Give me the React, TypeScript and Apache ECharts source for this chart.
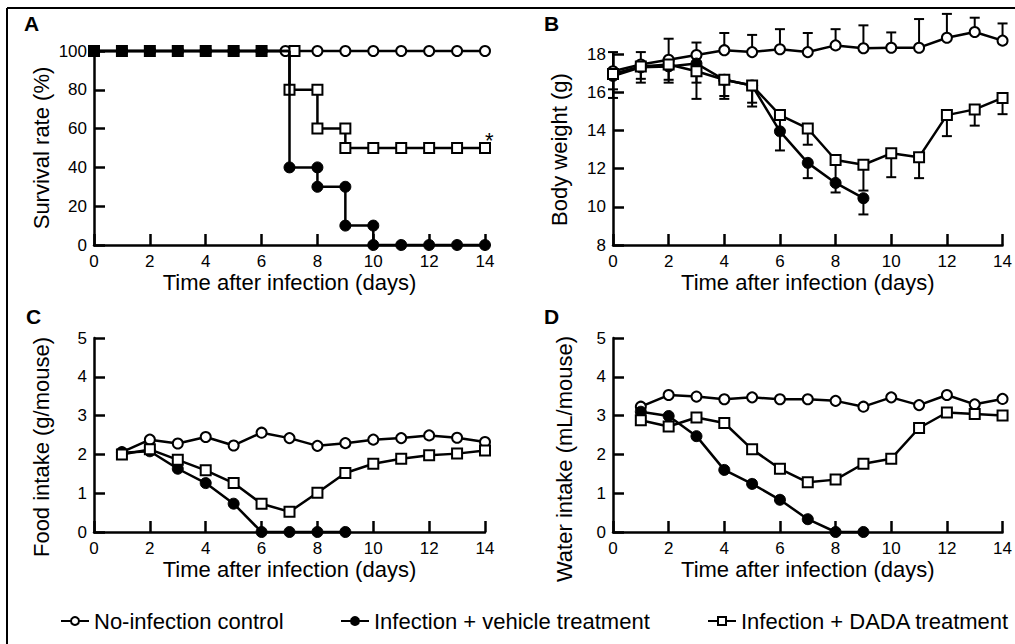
import React, { useEffect, useRef } from "react";
import * as echarts from "echarts";

const FONT = "'Liberation Sans', Arial, Helvetica, sans-serif";

const NAME_CONTROL = "No-infection control";
const NAME_VEHICLE = "Infection + vehicle treatment";
const NAME_DADA = "Infection + DADA treatment";

// Panel A: survival (%) by day 0..14
const survivalDays = [0, 1, 2, 3, 4, 5, 6, 7, 8, 9, 10, 11, 12, 13, 14];
const survivalControl = [100, 100, 100, 100, 100, 100, 100, 100, 100, 100, 100, 100, 100, 100, 100];
const survivalVehicle = [100, 100, 100, 100, 100, 100, 100, 40, 30, 10, 0, 0, 0, 0, 0];
const survivalDada = [100, 100, 100, 100, 100, 100, 100, 80, 60, 50, 50, 50, 50, 50, 50];

// Panel B: body weight (g), mean and SD
const weightDays = [0, 1, 2, 3, 4, 5, 6, 7, 8, 9, 10, 11, 12, 13, 14];
const weightControl = [17.1, 17.45, 17.7, 17.95, 18.2, 18.1, 18.25, 18.1, 18.45, 18.3, 18.33, 18.33, 18.85, 19.15, 18.7];
const weightControlSd = [1.0, 0.65, 1.1, 0.65, 0.9, 0.9, 1.05, 1.0, 0.85, 1.2, 0.8, 1.5, 1.25, 0.75, 0.9];
const weightVehicle = [16.85, 17.3, 17.35, 17.5, 16.65, 16.35, 13.95, 12.3, 11.25, 10.45];
const weightVehicleSd = [1.15, 0.8, 0.85, 1.0, 1.0, 1.1, 1.0, 0.8, 0.5, 0.85];
const weightDada = [16.95, 17.35, 17.45, 17.1, 16.65, 16.35, 14.8, 14.1, 12.45, 12.2, 12.8, 12.6, 14.8, 15.1, 15.7];
const weightDadaSd = [0.8, 0.65, 0.8, 1.45, 0.85, 0.9, 0.9, 0.85, 1.3, 1.35, 1.25, 1.1, 1.1, 0.85, 0.85];

// Panel C: food intake (g/mouse), days 1..14
const intakeDays = [1, 2, 3, 4, 5, 6, 7, 8, 9, 10, 11, 12, 13, 14];
const foodControl = [2.06, 2.38, 2.28, 2.45, 2.23, 2.56, 2.42, 2.22, 2.29, 2.38, 2.42, 2.49, 2.43, 2.32];
const foodVehicle = [2.04, 2.08, 1.63, 1.26, 0.73, 0, 0, 0, 0];
const foodDada = [2.0, 2.13, 1.86, 1.59, 1.26, 0.73, 0.52, 1.01, 1.52, 1.76, 1.89, 1.98, 2.02, 2.1];

// Panel D: water intake (mL/mouse), days 1..14
const waterControl = [3.23, 3.53, 3.49, 3.42, 3.47, 3.42, 3.42, 3.38, 3.23, 3.47, 3.27, 3.53, 3.29, 3.43];
const waterVehicle = [3.1, 2.99, 2.47, 1.6, 1.24, 0.83, 0.33, 0, 0];
const waterDada = [2.88, 2.72, 2.95, 2.81, 2.13, 1.63, 1.28, 1.35, 1.76, 1.89, 2.68, 3.08, 3.04, 3.0];

const xTitle = "Time after infection (days)";

const lineBase = { color: "#000", width: 2.5 };
const styleControl = {
  symbol: "circle",
  symbolSize: 10,
  itemStyle: { color: "#fff", borderColor: "#000", borderWidth: 2 },
  lineStyle: lineBase,
};
const styleVehicle = {
  symbol: "circle",
  symbolSize: 11,
  itemStyle: { color: "#000", borderColor: "#000", borderWidth: 1 },
  lineStyle: lineBase,
};
const styleDada = {
  symbol: "rect",
  symbolSize: 10,
  itemStyle: { color: "#fff", borderColor: "#000", borderWidth: 2 },
  lineStyle: lineBase,
};

function pairs(xs: number[], ys: number[]) {
  return ys.map((y, i) => [xs[i], y]);
}

// Kaplan-Meier style step points with a marker before and after each drop
function stepPoints(xs: number[], ys: number[], hideTop: boolean, topOffset?: number[]) {
  const pts: any[] = [];
  ys.forEach((v, i) => {
    if (i > 0 && v !== ys[i - 1]) {
      const item: any = { value: [xs[i], ys[i - 1]] };
      if (hideTop && ys[i - 1] === 100) item.symbol = "none";
      if (topOffset && ys[i - 1] === 100) item.symbolOffset = topOffset;
      pts.push(item);
    }
    pts.push({ value: [xs[i], v] });
  });
  return pts;
}

function errData(xs: number[], ys: number[], sd: number[], dir: number) {
  return ys.map((y, i) => [xs[i], y, sd[i], dir]);
}

function errorSeries(data: any[], idx: number) {
  return {
    type: "custom",
    xAxisIndex: idx,
    yAxisIndex: idx,
    silent: true,
    clip: false,
    z: 1,
    renderItem: (params: any, api: any) => {
      const x = api.value(0);
      const y = api.value(1);
      const e = api.value(2);
      const dir = api.value(3);
      const p0 = api.coord([x, y]);
      const p1 = api.coord([x, y + dir * e]);
      return {
        type: "group",
        children: [
          { type: "line", shape: { x1: p0[0], y1: p0[1], x2: p1[0], y2: p1[1] }, style: { stroke: "#000", lineWidth: 2 } },
          { type: "line", shape: { x1: p1[0] - 5, y1: p1[1], x2: p1[0] + 5, y2: p1[1] }, style: { stroke: "#000", lineWidth: 2 } },
        ],
      };
    },
    data,
  };
}

const axisCommon = {
  type: "value",
  axisLine: { show: true, lineStyle: { color: "#000", width: 2.5 } },
  axisTick: { show: true, inside: true, length: 11, lineStyle: { color: "#000", width: 2.5 } },
  splitLine: { show: false },
  axisLabel: { color: "#000", fontSize: 17, fontFamily: FONT },
  nameTextStyle: { color: "#000", fontSize: 22, fontFamily: FONT },
};

function xAxisFor(gridIndex: number) {
  return {
    ...axisCommon,
    gridIndex,
    min: 0,
    max: 14,
    interval: 2,
    name: xTitle,
    nameLocation: "middle",
    nameGap: 26,
    axisLabel: { ...axisCommon.axisLabel, margin: 8 },
  };
}

function yAxisFor(gridIndex: number, min: number, max: number, interval: number, name: string, gap: number, shift: number) {
  return {
    ...axisCommon,
    gridIndex,
    min,
    max,
    interval,
    name,
    nameLocation: "middle",
    nameGap: gap,
    nameTextStyle: { ...axisCommon.nameTextStyle, padding: [0, shift * 2, 0, 0] },
    axisLabel: { ...axisCommon.axisLabel, margin: 7 },
  };
}

function lineSeries(name: string, style: any, data: any[], idx: number, z: number) {
  return {
    type: "line",
    name,
    xAxisIndex: idx,
    yAxisIndex: idx,
    data,
    clip: false,
    z,
    ...style,
  };
}

export default function App() {
  const ref = useRef<HTMLDivElement>(null);

  useEffect(() => {
    if (!ref.current) return;
    const chart = echarts.init(ref.current, undefined, { renderer: "svg" });

    const legendBase = {
      itemWidth: 28,
      itemHeight: 10,
      top: 605,
      textStyle: { color: "#000", fontSize: 22, fontFamily: FONT },
      selectedMode: false,
    };

    const option: any = {
      animation: false,
      backgroundColor: "#fff",
      textStyle: { fontFamily: FONT },
      grid: [
        { left: 94, top: 51, width: 391, height: 194 },
        { left: 613, top: 54, width: 391, height: 191 },
        { left: 94, top: 338, width: 391, height: 194 },
        { left: 613, top: 338, width: 391, height: 194 },
      ],
      xAxis: [xAxisFor(0), xAxisFor(1), xAxisFor(2), xAxisFor(3)],
      yAxis: [
        yAxisFor(0, 0, 100, 20, "Survival rate (%)", 42, 0),
        yAxisFor(1, 8, 18, 2, "Body weight (g)", 43, 0),
        yAxisFor(2, 0, 5, 1, "Food intake (g/mouse)", 42, 12),
        yAxisFor(3, 0, 5, 1, "Water intake (mL/mouse)", 38, 24),
      ],
      legend: [
        { ...legendBase, left: 55, data: [NAME_CONTROL] },
        { ...legendBase, left: 335, data: [NAME_VEHICLE] },
        { ...legendBase, left: 702, data: [NAME_DADA] },
      ],
      series: [
        // Panel A
        lineSeries(NAME_CONTROL, styleControl,
          survivalControl.map((v, i) => (survivalDays[i] === 7 ? { value: [survivalDays[i], v], symbolOffset: [-4, 0] } : { value: [survivalDays[i], v] })), 0, 2),
        lineSeries(NAME_DADA, styleDada, stepPoints(survivalDays, survivalDada, false, [5, 0]), 0, 3),
        lineSeries(NAME_VEHICLE, styleVehicle, stepPoints(survivalDays, survivalVehicle, true), 0, 4),
        // Panel B
        errorSeries(errData(weightDays, weightControl, weightControlSd, 1), 1),
        errorSeries(errData(weightDays, weightVehicle, weightVehicleSd, -1), 1),
        errorSeries(errData(weightDays, weightDada, weightDadaSd, -1), 1),
        lineSeries(NAME_CONTROL, styleControl, pairs(weightDays, weightControl), 1, 2),
        lineSeries(NAME_VEHICLE, styleVehicle, pairs(weightDays, weightVehicle), 1, 3),
        lineSeries(NAME_DADA, styleDada, pairs(weightDays, weightDada), 1, 4),
        // Panel C
        lineSeries(NAME_CONTROL, styleControl, pairs(intakeDays, foodControl), 2, 2),
        lineSeries(NAME_VEHICLE, styleVehicle, pairs(intakeDays, foodVehicle), 2, 3),
        lineSeries(NAME_DADA, styleDada, pairs(intakeDays, foodDada), 2, 4),
        // Panel D
        lineSeries(NAME_CONTROL, styleControl, pairs(intakeDays, waterControl), 3, 2),
        lineSeries(NAME_VEHICLE, styleVehicle, pairs(intakeDays, waterVehicle), 3, 3),
        lineSeries(NAME_DADA, styleDada, pairs(intakeDays, waterDada), 3, 4),
      ],
      graphic: [
        { type: "line", shape: { x1: 7, y1: 8, x2: 1015, y2: 8 }, style: { stroke: "#000", lineWidth: 2 } },
        { type: "line", shape: { x1: 7, y1: 8, x2: 7, y2: 644 }, style: { stroke: "#000", lineWidth: 2 } },
        { type: "text", x: 24, y: 13, style: { text: "A", font: `bold 21px ${FONT}`, fill: "#000" } },
        { type: "text", x: 544, y: 13, style: { text: "B", font: `bold 21px ${FONT}`, fill: "#000" } },
        { type: "text", x: 26, y: 306, style: { text: "C", font: `bold 21px ${FONT}`, fill: "#000" } },
        { type: "text", x: 544, y: 306, style: { text: "D", font: `bold 21px ${FONT}`, fill: "#000" } },
        { type: "text", x: 485, y: 129, style: { text: "*", font: `22px ${FONT}`, fill: "#000" } },
      ],
    };

    chart.setOption(option);
    return () => {
      chart.dispose();
    };
  }, []);

  return (
    <div
      ref={ref}
      style={{ position: "absolute", left: 0, top: 0, width: 1015, height: 644, background: "#fff" }}
    />
  );
}
